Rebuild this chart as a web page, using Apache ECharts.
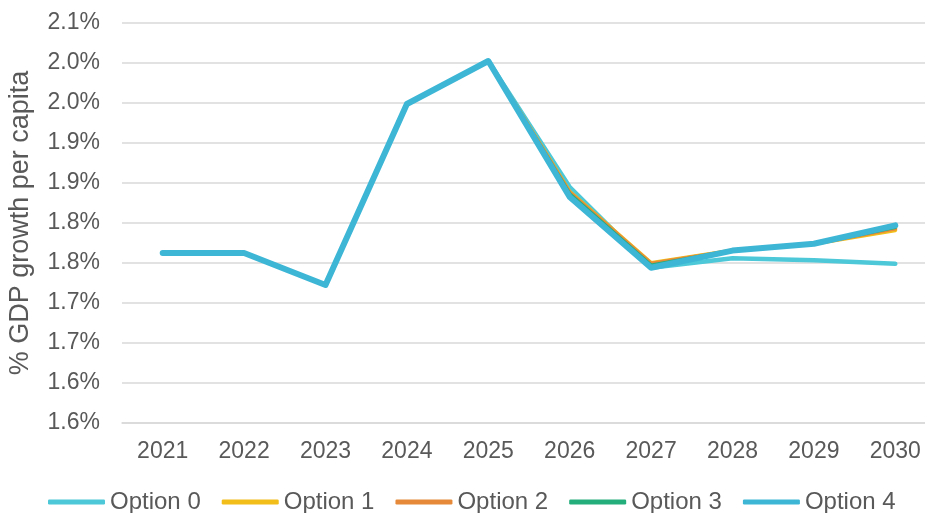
<!DOCTYPE html>
<html>
<head>
<meta charset="utf-8">
<script src="https://cdn.jsdelivr.net/npm/echarts@6/dist/echarts.min.js"></script>
<style>html,body{margin:0;padding:0;background:#fff}#c{width:925px;height:513px}</style>
</head>
<body>
<div id="c"></div>
<script>
const years = ['2021','2022','2023','2024','2025','2026','2027','2028','2029','2030'];
const option0 = [1.7625, 1.7625, 1.7225, 1.94875, 2.0025, 1.845, 1.744, 1.756, 1.7535, 1.749];
const option1 = [1.7625, 1.7625, 1.7225, 1.94875, 2.0025, 1.839, 1.750, 1.7655, 1.774, 1.791];
const option2 = [1.7625, 1.7625, 1.7225, 1.94875, 2.0025, 1.838, 1.749, 1.7655, 1.774, 1.793];
const option3 = [1.7625, 1.7625, 1.7225, 1.94875, 2.0025, 1.836, 1.747, 1.7655, 1.774, 1.795];
const option4 = [1.7625, 1.7625, 1.7225, 1.94875, 2.0025, 1.8325, 1.744, 1.7655, 1.774, 1.797];
const seriesNames = ['Option 0','Option 1','Option 2','Option 3','Option 4'];
const seriesData = [option0, option1, option2, option3, option4];
const colors = ['#4CC8D8','#F2BE1A','#E68A3A','#24AE7C','#3DB6D6'];
const widths = [4.5, 4, 4, 4, 6];

const chart = echarts.init(document.getElementById('c'));
chart.setOption({
  animation: false,
  grid: { left: 122, top: 23, width: 814, height: 400, containLabel: false, outerBoundsMode: 'none' },
  legend: {
    top: 485,
    left: 43,
    itemWidth: 57,
    itemHeight: 5,
    itemGap: 21,
    itemTextGap: 0,
    icon: 'roundRect',
    textStyle: { fontFamily: 'Liberation Sans', fontSize: 24, color: '#595959' },
    data: seriesNames
  },
  xAxis: {
    type: 'category',
    data: years,
    boundaryGap: true,
    axisLine: { lineStyle: { color: '#D9D9D9', width: 1.5 } },
    axisTick: { show: false },
    axisLabel: { fontFamily: 'Liberation Sans', fontSize: 23, color: '#595959', margin: 17 }
  },
  yAxis: {
    type: 'value',
    min: 1.55, max: 2.05, interval: 0.05,
    name: '% GDP growth per capita',
    nameLocation: 'middle',
    nameGap: 88,
    nameTextStyle: { fontFamily: 'Liberation Sans', fontSize: 27, color: '#595959' },
    axisLine: { show: false },
    axisTick: { show: false },
    splitLine: { lineStyle: { color: '#D9D9D9', width: 1.5 } },
    axisLabel: {
      fontFamily: 'Liberation Sans', fontSize: 23, color: '#595959', margin: 22,
      formatter: v => (Math.round(v * 10 + 1e-6) / 10).toFixed(1) + '%'
    }
  },
  series: seriesNames.map((n, i) => ({
    name: n,
    type: 'line',
    data: seriesData[i],
    symbol: 'none',
    color: colors[i],
    lineStyle: { width: widths[i], color: colors[i], cap: 'round', join: 'round' },
    z: 2 + i
  }))
});
</script>
</body>
</html>
